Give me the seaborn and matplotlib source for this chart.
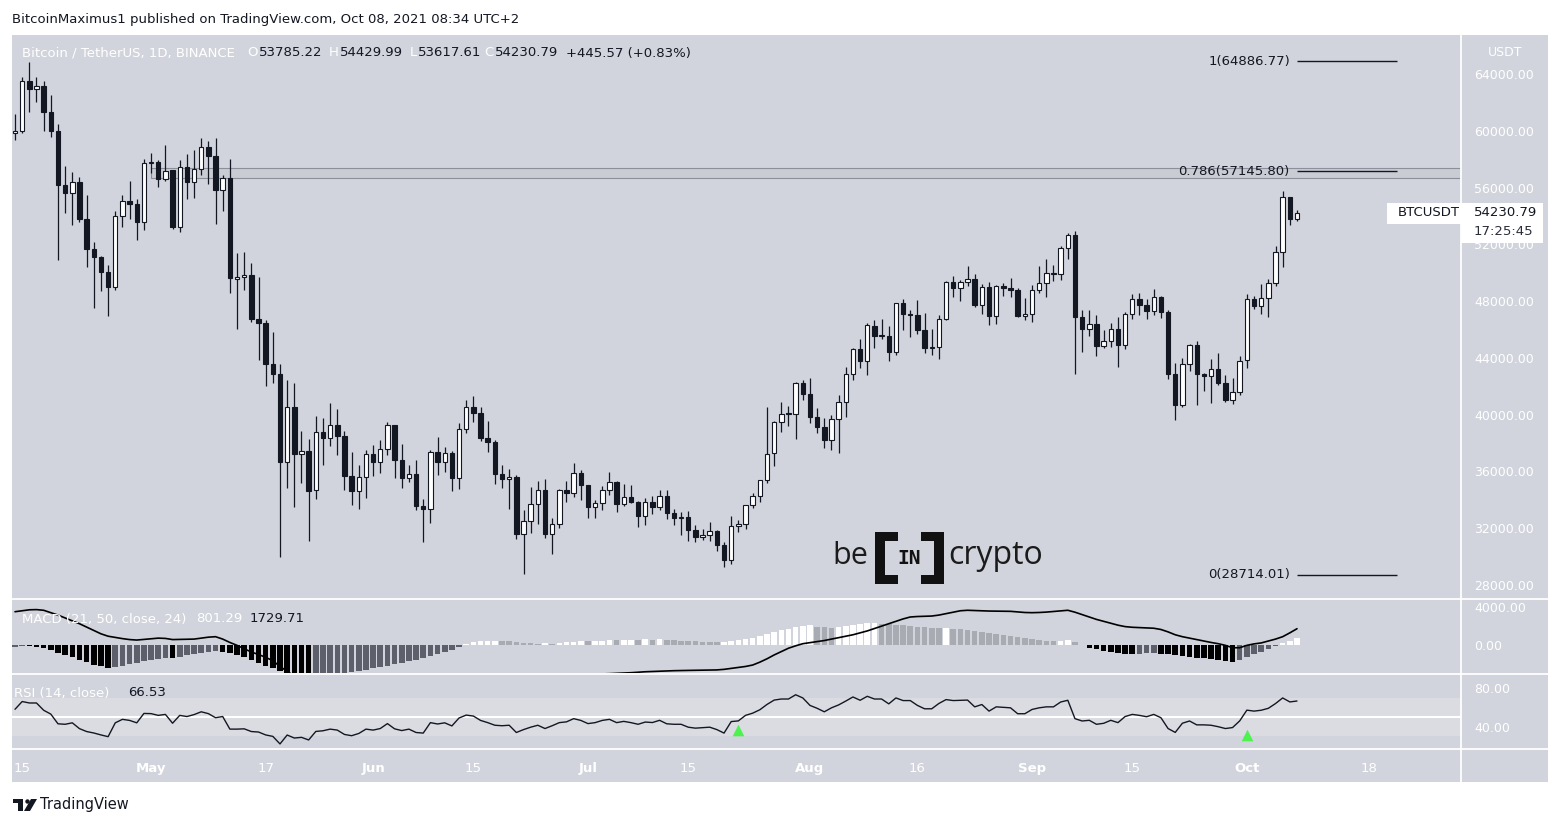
import numpy as np
import pandas as pd
import matplotlib
matplotlib.use("Agg")
import matplotlib.pyplot as plt
import seaborn as sns
from matplotlib.patches import Rectangle, Polygon, Circle

sns.set_theme(style="white")
plt.rcParams['font.family'] = ['DejaVu Sans']

# ---------------- data ----------------
start_date = "2021-04-12"
opens = [59846, 59969, 63503, 62963, 63159, 61334, 60006, 56150, 55633, 56425,
         53787, 51690, 51111, 50048, 49004, 54021, 55034, 54825, 53555, 57697,
         57798, 56578, 57214, 53202, 57436, 56393, 57315, 58866, 58240, 55817,
         56674, 49537, 49671, 49845, 46716, 46427, 43538, 42850, 36672, 40526,
         37263, 37459, 34681, 38811, 38325, 39242, 38530, 35660, 34605, 35641,
         37253, 36694, 37568, 39246, 36829, 35517, 35797, 33557, 33380, 37388,
         36677, 37331, 35546, 39021, 40516, 40143, 38349, 38099, 35820, 35483,
         35601, 31614, 32509, 33676, 34663, 31576, 32283, 34702, 34494, 35911,
         35045, 33502, 33786, 34669, 35285, 33690, 34220, 33863, 32875, 33815,
         33503, 34259, 33086, 32729, 32820, 31874, 31384, 31521, 31778, 30839,
         29790, 32144, 32288, 33635, 34261, 35381, 37275, 39456, 40020, 40019,
         42206, 41461, 39850, 39146, 38207, 39723, 40862, 42836, 44614, 43794,
         46281, 45543, 45561, 44429, 47834, 47112, 47056, 45993, 44686, 44741,
         46763, 49339, 48905, 49322, 49546, 47707, 48960, 46942, 49058, 48897,
         48768, 46971, 47100, 48811, 49246, 50000, 49918, 51757, 52666, 46868,
         46049, 46396, 44842, 45173, 46026, 44940, 47103, 48121, 47737, 47299,
         48292, 47242, 42843, 40694, 43574, 44897, 42840, 42716, 43208, 42236,
         41035, 41565, 43820, 48166, 47657, 48233, 49244, 51494, 55339, 53785.22]
highs = [61199, 63800, 64854, 63800, 63520, 62506, 60499, 57526, 57076, 56757,
         55452, 52131, 51200, 50555, 54357, 55468, 56428, 55196, 58000, 58459,
         57911, 58981, 57214, 57936, 58360, 58650, 59500, 59300, 59500, 56862,
         58000, 51367, 51483, 50700, 49720, 46643, 45800, 43547, 42451, 42200,
         38829, 38270, 39920, 39791, 40841, 40411, 38877, 37338, 36488, 37499,
         37894, 38225, 39476, 39289, 37925, 36480, 36800, 34068, 37534, 38392,
         37690, 37438, 39380, 41064, 41330, 40528, 39560, 38200, 36457, 36137,
         35750, 33298, 34881, 35298, 35500, 32730, 34749, 35297, 36600, 36100,
         35057, 33977, 34945, 35967, 35293, 35118, 35059, 33913, 34100, 34262,
         34666, 34679, 33340, 33114, 33185, 32249, 31950, 32435, 31899, 31063,
         32858, 32591, 33650, 34500, 35398, 40550, 39542, 40900, 40640, 42320,
         42448, 42599, 40459, 39780, 39969, 41350, 43392, 44700, 45310, 46454,
         46700, 46743, 46218, 47886, 48144, 47392, 48053, 47160, 46000, 47033,
         49382, 49757, 49500, 50500, 49875, 49202, 49380, 49169, 49309, 49658,
         48910, 48246, 49150, 50449, 51000, 50558, 51900, 52780, 52920, 47340,
         47399, 47031, 45987, 46460, 46876, 47250, 48500, 48557, 48170, 48843,
         48372, 47359, 43639, 44000, 44978, 45200, 42961, 43920, 44350, 42787,
         42590, 44132, 48495, 48336, 49228, 49536, 51886, 55750, 55338, 54429.99]
lows = [59369, 59869, 61302, 62020, 60000, 59580, 50931, 54221, 53329, 53608,
        50400, 47500, 48732, 46930, 48806, 53222, 53813, 52330, 53013, 57010,
        56035, 56435, 53046, 52900, 55200, 55241, 56900, 56235, 53400, 54370,
        48600, 46000, 48800, 46555, 43825, 42001, 42250, 30000, 34850, 33488,
        35200, 31111, 34031, 36419, 37800, 37134, 34684, 33632, 33379, 34154,
        35666, 35920, 37170, 35555, 34800, 35258, 33300, 31000, 32396, 35782,
        35936, 34600, 34757, 38730, 39506, 38116, 37365, 35129, 34803, 33336,
        31251, 28805, 31683, 32286, 31275, 30151, 32000, 33862, 34225, 34017,
        32711, 32699, 33316, 34357, 33125, 33532, 33777, 32077, 32261, 33004,
        33307, 32658, 32202, 31550, 31133, 31020, 31164, 31108, 30408, 29278,
        29482, 31708, 31924, 33401, 33851, 35205, 36383, 38772, 39200, 38313,
        41000, 39422, 38690, 37642, 37508, 37332, 39853, 42446, 43261, 42779,
        44723, 45341, 43771, 44217, 45971, 45500, 45660, 44376, 44203, 43955,
        46646, 48273, 48000, 49045, 47600, 47126, 46315, 46371, 48370, 48287,
        46854, 46700, 46512, 48584, 48316, 49400, 49500, 50969, 42843, 44412,
        45514, 44132, 44722, 44742, 43370, 44594, 46773, 47022, 46750, 47032,
        46829, 42500, 39600, 40565, 43069, 40675, 41646, 40829, 42098, 40888,
        40753, 41410, 43283, 47430, 47120, 46891, 49057, 50382, 53357, 53617.61]
closes = [59968, 63503, 62963, 63160, 61334, 60006, 56150, 55633, 56425, 53787,
          51690, 51125, 50047, 49004, 54021, 55033, 54824, 53555, 57697, 57797,
          56578, 57169, 53200, 57436, 56393, 57314, 58862, 58240, 55816, 56670,
          49631, 49670, 49841, 46708, 46426, 43538, 42850, 36690, 40526, 37252,
          37449, 34655, 38796, 38324, 39241, 38529, 35663, 34605, 35641, 37253,
          36693, 37568, 39246, 36829, 35513, 35796, 33552, 33380, 37388, 36675,
          37331, 35546, 39020, 40516, 40144, 38349, 38092, 35820, 35483, 35600,
          31608, 32509, 33678, 34663, 31584, 32283, 34700, 34494, 35911, 35045,
          33504, 33786, 34669, 35286, 33690, 34220, 33862, 32875, 33815, 33502,
          34259, 33086, 32729, 32820, 31880, 31383, 31520, 31778, 30839, 29790,
          32144, 32287, 33634, 34258, 35381, 37237, 39457, 40020, 40016, 42206,
          41461, 39845, 39147, 38207, 39723, 40862, 42836, 44614, 43792, 46285,
          45543, 45561, 44429, 47834, 47112, 47056, 45993, 44696, 44741, 46763,
          49339, 48905, 49321, 49546, 47706, 48960, 46942, 49058, 48897, 48767,
          46970, 47100, 48810, 49246, 49999, 49915, 51756, 52663, 46863, 46048,
          46395, 44850, 45173, 46025, 44940, 47111, 48121, 47737, 47299, 48293,
          47241, 42843, 40693, 43574, 44896, 42840, 42716, 43208, 42235, 41034,
          41564, 43790, 48165, 47657, 48233, 49245, 51494, 55339, 53785.22, 54230.79]

macd_line = [3500, 3600, 3700, 3720, 3650, 3400, 3150, 2850, 2550, 2250,
             1900, 1550, 1200, 950, 820, 700, 600, 550, 620, 700,
             750, 720, 600, 620, 640, 650, 750, 850, 900, 650,
             300, 0, -350, -700, -950, -1250, -1600, -2200, -2700, -3200,
             -3500, -3900, -4200, -4450, -4650, -4800, -4950, -5100, -5200, -5250,
             -5300, -5300, -5250, -5250, -5250, -5250, -5250, -5200, -5100, -5050,
             -5000, -4900, -4750, -4600, -4450, -4350, -4250, -4150, -4050, -3950,
             -3900, -3800, -3700, -3600, -3550, -3450, -3350, -3250, -3150, -3100,
             -3050, -3000, -2980, -2950, -2920, -2880, -2850, -2800, -2750, -2720,
             -2680, -2660, -2640, -2620, -2610, -2600, -2590, -2580, -2560, -2500,
             -2400, -2300, -2200, -2050, -1750, -1400, -1000, -650, -300, -50,
             170, 280, 380, 500, 650, 800, 950, 1100, 1300, 1500,
             1750, 2000, 2250, 2500, 2750, 2950, 3000, 3020, 3050, 3150,
             3300, 3450, 3600, 3650, 3620, 3600, 3570, 3560, 3560, 3540,
             3480, 3420, 3400, 3420, 3460, 3520, 3580, 3650, 3450, 3200,
             2950, 2700, 2500, 2300, 2100, 1950, 1880, 1850, 1820, 1780,
             1650, 1400, 1100, 900, 750, 600, 450, 300, 170, 0,
             -250, -250, 0, 150, 250, 450, 650, 900, 1300, 1729.71]

macd_hist = [-150, -100, -120, -180, -300, -500, -750, -1000, -1250, -1500,
             -1750, -2000, -2200, -2370, -2250, -2100, -1950, -1800, -1650, -1550,
             -1400, -1300, -1350, -1200, -1050, -900, -800, -700, -600, -650,
             -800, -1000, -1250, -1500, -1800, -2100, -2400, -2700, -3000, -3300,
             -3500, -3600, -3400, -3200, -3050, -2950, -2850, -2750, -2650, -2550,
             -2400, -2250, -2100, -1950, -1800, -1650, -1500, -1300, -1100, -900,
             -700, -450, -150, 150, 300, 400, 450, 500, 450, 400,
             300, 250, 200, 150, 200, 150, 200, 300, 380, 420,
             400, 420, 480, 540, 520, 560, 600, 580, 620, 600,
             620, 560, 520, 480, 440, 400, 370, 340, 320, 350,
             450, 550, 650, 800, 950, 1150, 1350, 1550, 1750, 1900,
             2000, 2100, 1950, 1900, 1850, 1900, 2000, 2100, 2200, 2300,
             2350, 2250, 2200, 2150, 2100, 2000, 1950, 1900, 1850, 1800,
             1830, 1750, 1650, 1600, 1500, 1400, 1300, 1200, 1100, 1000,
             900, 800, 700, 600, 500, 450, 500, 550, 300, 50,
             -250, -400, -550, -650, -750, -850, -900, -850, -800, -780,
             -850, -950, -1050, -1150, -1250, -1300, -1350, -1450, -1550, -1650,
             -1700, -1500, -1200, -900, -650, -400, -100, 200, 500, 801.29]

rsi = [58, 66, 64.5, 64.5, 57, 53, 43, 42.5, 44, 38,
       35, 33.5, 31.5, 29.7, 44, 47.6, 46.5, 44, 53.7, 53.5,
       51.7, 52.7, 43.6, 51.7, 50.5, 52.5, 55.4, 53.5, 49.3, 50.5,
       37.5, 37.5, 37.8, 35, 34.5, 31.5, 30, 22.2, 31.4, 28.3,
       29, 26.3, 35.1, 35.8, 37.5, 36.5, 32, 30.7, 33, 37.5,
       36.5, 38.1, 43.2, 37.8, 36, 37.5, 34, 33.4, 44.2, 42.8,
       44, 40.8, 49, 52, 51, 46.5, 44.2, 41.5, 41, 41.5,
       34, 37, 39.5, 41.5, 38.1, 41, 44.2, 45, 48.3, 46.5,
       43.2, 44.2, 46.5, 47.6, 44.2, 45.5, 44.2, 42.5, 44.8, 44.3,
       46.6, 43, 42.5, 42.5, 39.5, 38.5, 39, 39.5, 37, 33.4,
       45.3, 46, 51.7, 54, 57.5, 63, 67.5, 68.6, 68.6, 73,
       69.7, 62, 59, 55.4, 59.5, 62.5, 66.5, 70.7, 67.3, 71.4,
       68.6, 68.6, 63.6, 69.7, 67, 67, 62, 58.5, 58.5, 64,
       68, 67, 67.3, 67.5, 60.5, 62.9, 56.1, 60.5, 60, 59.5,
       53.4, 53.4, 57.8, 59.5, 60.5, 60.5, 65.5, 67.3, 48.3, 45.9,
       46.6, 42.5, 43.5, 46.6, 44.2, 50.5, 52.7, 51.7, 50.3, 52.7,
       49.3, 38.1, 34.1, 43.6, 45.9, 41.9, 41.9, 41.5, 40, 38.1,
       39.1, 46, 57.1, 56.1, 57, 59, 63.9, 69.7, 65.6, 66.53]

signal_dates = ["2021-07-22", "2021-10-01"]
signal_rsi = [37, 31.5]

fib_ratios = [1, 0.786, 0]
fib_prices = [64886.77, 57145.80, 28714.01]

zone_low, zone_high = 56650, 57360
zone_start = "2021-05-01"

price_ticks = [28000, 32000, 36000, 40000, 44000, 48000, 52000, 56000, 60000, 64000]
macd_ticks = [0, 4000]
rsi_ticks = [40, 80]

tick_dates = ["2021-04-13", "2021-05-01", "2021-05-17", "2021-06-01", "2021-06-15",
              "2021-07-01", "2021-07-15", "2021-08-01", "2021-08-16", "2021-09-01",
              "2021-09-15", "2021-10-01", "2021-10-18"]
tick_labels = ["15", "May", "17", "Jun", "15", "Jul", "15", "Aug", "16", "Sep", "15", "Oct", "18"]
month_labels = {"May", "Jun", "Jul", "Aug", "Sep", "Oct"}

# ---------------- styling ----------------
W, H = 1561, 827
BG = "#d1d4dc"
DARK = "#131722"
WHITE = "#ffffff"

dates = pd.date_range(start_date, periods=len(closes), freq="D")
idx = np.arange(len(closes))
day_of = lambda d: (pd.Timestamp(d) - dates[0]).days

fig = plt.figure(figsize=(W / 100, H / 100), dpi=100)
fig.patch.set_facecolor("white")

def rect(x0, y0, x1, y1):
    return [x0 / W, 1 - y1 / H, (x1 - x0) / W, (y1 - y0) / H]

fig.add_artist(Rectangle((12 / W, 1 - 782 / H), (1548 - 12) / W, (782 - 35) / H,
                         transform=fig.transFigure, facecolor=BG, edgecolor="none", zorder=-10))

ax = fig.add_axes(rect(12, 35, 1461, 598))
axm = fig.add_axes(rect(12, 600, 1461, 673))
axr = fig.add_axes(rect(12, 675, 1461, 748))
XMIN, XMAX = -0.42, 201.9
for a in (ax, axm, axr):
    a.set_facecolor(BG)
    a.set_xlim(XMIN, XMAX)
    for s in a.spines.values():
        s.set_visible(False)
    a.yaxis.tick_right()
    a.tick_params(axis="y", length=0, pad=9.4, labelcolor=WHITE, labelsize=9)
    a.tick_params(axis="x", length=0)
    a.grid(False)

# ---- price panel ----
o = np.array(opens); h = np.array(highs); l = np.array(lows); c = np.array(closes)
up = c >= o
ax.set_ylim(27083, 66748)
ax.add_patch(Rectangle((day_of(zone_start), zone_low), XMAX - day_of(zone_start), zone_high - zone_low,
                       facecolor="#c9ccd3", edgecolor="#8c8f99", linewidth=0.8, zorder=1))
ax.vlines(idx, l, h, color=DARK, linewidth=0.9, zorder=2)
body_bottom = np.minimum(o, c)
body_h = np.maximum(np.abs(c - o), 70)
ax.bar(idx, body_h, bottom=body_bottom, width=0.62,
       color=np.where(up, WHITE, DARK), edgecolor=DARK, linewidth=0.8, zorder=3)
ax.set_yticks(price_ticks)
ax.set_yticklabels([f"{t:.2f}" for t in price_ticks])
ax.set_xticks([])
ax.hlines(fib_prices, len(closes) - 1, len(closes) + 13, color=DARK, linewidth=1.0, zorder=4)
for r, p in zip(fib_ratios, fib_prices):
    ax.text(len(closes) - 2, p, f"{r}({p:.2f})", ha="right", va="center",
            color=DARK, fontsize=9.5, zorder=5)

# ---- MACD panel ----
axm.set_ylim(-2880, 4720)
hcol = []
for i, v in enumerate(macd_hist):
    prev = macd_hist[i - 1] if i > 0 else v
    if v >= 0:
        hcol.append(WHITE if v >= prev else "#a9abb3")
    else:
        hcol.append("#000000" if v < prev else "#5d606b")
axm.bar(idx, macd_hist, width=0.78, color=hcol, linewidth=0, zorder=2)
sns.lineplot(x=idx, y=macd_line, ax=axm, color="black", linewidth=1.2, legend=False, zorder=3)
axm.set_yticks(macd_ticks)
axm.set_yticklabels([f"{t:.2f}" for t in macd_ticks])
axm.set_xticks([])
axm.set_ylabel("")

# ---- RSI panel ----
axr.set_ylim(18, 93.4)
axr.axhspan(30, 70, color="#dadce2", zorder=1, linewidth=0)
axr.axhline(50, color=WHITE, linewidth=1.5, zorder=2)
sns.lineplot(x=idx, y=rsi, ax=axr, color=DARK, linewidth=1.0, legend=False, zorder=3)
axr.scatter([day_of(d) for d in signal_dates], signal_rsi, marker="^", s=70,
            color="#4ef24e", linewidths=0, zorder=4)
axr.set_yticks(rsi_ticks)
axr.set_yticklabels([f"{t:.2f}" for t in rsi_ticks])
axr.set_ylabel("")
axr.set_xticks([day_of(d) for d in tick_dates])
axr.set_xticklabels(tick_labels)
axr.tick_params(axis="x", pad=10, labelcolor=WHITE, labelsize=9.5)
for t in axr.get_xticklabels():
    if t.get_text() in month_labels:
        t.set_fontweight("bold")

# ---------------- overlay (decorations in pixel coords) ----------------
ov = fig.add_axes([0, 0, 1, 1], zorder=20)
ov.set_xlim(0, W); ov.set_ylim(H, 0); ov.axis("off"); ov.patch.set_alpha(0)

for y in (599, 674, 749):
    ov.plot([12, 1548], [y, y], color=WHITE, linewidth=1.3)
ov.plot([1461, 1461], [35, 782], color=WHITE, linewidth=1.3)

ov.text(12, 19, "BitcoinMaximus1 published on TradingView.com, Oct 08, 2021 08:34 UTC+2",
        color=DARK, fontsize=9.5, va="center", ha="left")

ty = 53
ov.text(22, ty, "Bitcoin / TetherUS, 1D, BINANCE", color=WHITE, fontsize=9.5, va="center")
chg = closes[-1] - closes[-2]
pct = chg / closes[-2] * 100
for lab, x_v in (("O", 259), ("H", 340), ("L", 418), ("C", 495)):
    val = {"O": opens[-1], "H": highs[-1], "L": lows[-1], "C": closes[-1]}[lab]
    ov.text(x_v - 1, ty, lab, color=WHITE, fontsize=9.5, va="center", ha="right")
    ov.text(x_v, ty, f"{val:.2f}", color=DARK, fontsize=9.5, va="center")
ov.text(566, ty, f"{chg:+.2f} ({pct:+.2f}%)", color=DARK, fontsize=9.5, va="center")

ov.text(22, 619, "MACD (21, 50, close, 24)", color=WHITE, fontsize=9.5, va="center")
ov.text(196, 619, f"{macd_hist[-1]:.2f}", color=WHITE, fontsize=9.5, va="center")
ov.text(250, 619, f"{macd_line[-1]:.2f}", color=DARK, fontsize=9.5, va="center")
ov.text(14, 693, "RSI (14, close)", color=WHITE, fontsize=9.5, va="center")
ov.text(128, 693, f"{rsi[-1]:.2f}", color=DARK, fontsize=9.5, va="center")

ov.text(1505, 52, "USDT", color=WHITE, fontsize=9, va="center", ha="center")

# last price label
y_last = H - ax.transData.transform((0, closes[-1]))[1]
ov.add_patch(Rectangle((1387, y_last - 10), 74, 21, facecolor=WHITE, edgecolor="none"))
ov.add_patch(Rectangle((1461, y_last - 10), 82, 40, facecolor=WHITE, edgecolor="none"))
ov.text(1398, y_last, "BTCUSDT", color=DARK, fontsize=9.5, va="center")
ov.text(1474, y_last, f"{closes[-1]:.2f}", color=DARK, fontsize=9.5, va="center")
ov.text(1474, y_last + 19, "17:25:45", color="#2a2e39", fontsize=9.5, va="center")

# beincrypto watermark
ov.text(832, 564, "be", color="#1b1b1b", fontsize=22, family=["Open Sans", "DejaVu Sans"], va="baseline")
ov.text(948, 564, "crypto", color="#1b1b1b", fontsize=23, family=["Open Sans", "DejaVu Sans"], va="baseline")
for pts in ([(875, 532), (898, 532), (898, 541), (885, 541), (885, 575), (898, 575), (898, 584), (875, 584)],
            [(944, 532), (921, 532), (921, 541), (934, 541), (934, 575), (921, 575), (921, 584), (944, 584)]):
    ov.add_patch(Polygon(pts, closed=True, facecolor="#111111", edgecolor="none"))
ov.text(909.5, 558, "IN", color="#111111", fontsize=14, fontweight="bold",
        family=["DejaVu Sans Mono"], ha="center", va="center")

# footer TradingView logo
ov.add_patch(Rectangle((13, 799), 10, 4, facecolor=DARK, edgecolor="none"))
ov.add_patch(Rectangle((18, 799), 5, 12, facecolor=DARK, edgecolor="none"))
ov.add_patch(Circle((27.5, 801.5), 2.2, facecolor=DARK, edgecolor="none"))
ov.add_patch(Polygon([(24, 811), (31, 799), (37, 799), (30, 811)], closed=True, facecolor=DARK, edgecolor="none"))
ov.text(40, 805, "TradingView", color=DARK, fontsize=10.5, va="center")

fig.savefig("out.png", dpi=100, facecolor=fig.get_facecolor())
